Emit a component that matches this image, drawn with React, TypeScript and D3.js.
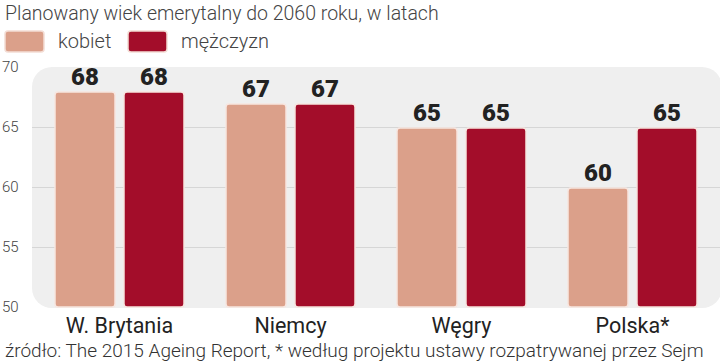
import { useEffect, useRef } from 'react'
import * as d3 from 'd3'

const categories = ['W. Brytania', 'Niemcy', 'Węgry', 'Polska*']
const kobiet = [68, 67, 65, 60]
const mezczyzn = [68, 67, 65, 65]
const seriesNames = ['kobiet', 'mężczyzn']
const yTicks = [50, 55, 60, 65, 70]

const colors = ['#dba08a', '#a30d2a']
const font = 'Roboto, "Open Sans", sans-serif'

export default function App() {
  const svgRef = useRef<SVGSVGElement>(null)

  useEffect(() => {
    if (!svgRef.current) return
    const width = 720
    const height = 364
    const svg = d3.select(svgRef.current)
    svg.selectAll('*').remove()
    svg.attr('width', width).attr('height', height)

    const plot = { left: 32, right: 722, top: 67, bottom: 308 }

    // tło wykresu
    svg.append('rect')
      .attr('x', plot.left)
      .attr('y', plot.top)
      .attr('width', plot.right - plot.left)
      .attr('height', plot.bottom - plot.top)
      .attr('rx', 20)
      .attr('fill', '#efefef')

    const y = d3.scaleLinear().domain([50, 70]).range([plot.bottom - 1, plot.top])

    const x0 = d3.scaleBand()
      .domain(categories)
      .range([47, 731])

    const x1 = d3.scaleBand()
      .domain(seriesNames)
      .range([8, 137])
      .paddingInner(0.13)

    // linie siatki
    svg.append('g')
      .selectAll('line')
      .data(yTicks.filter(t => t > 50 && t < 70))
      .enter()
      .append('line')
      .attr('x1', plot.left)
      .attr('x2', plot.right)
      .attr('y1', d => y(d) + 0.5)
      .attr('y2', d => y(d) + 0.5)
      .attr('stroke', '#d6d6d6')
      .attr('stroke-width', 1)

    // etykiety osi Y
    svg.append('g')
      .selectAll('text')
      .data(yTicks)
      .enter()
      .append('text')
      .attr('x', 2)
      .attr('y', d => y(d) + 5)
      .style('font-family', font)
      .style('font-size', '15px')
      .style('font-weight', 300)
      .style('fill', '#444')
      .text(d => d)

    const rows = categories.map((c, i) => ({ c, values: [kobiet[i], mezczyzn[i]] }))

    const groups = svg.append('g')
      .selectAll('g')
      .data(rows)
      .enter()
      .append('g')
      .attr('transform', d => `translate(${x0(d.c)},0)`)

    groups.selectAll('rect')
      .data(d => d.values.map((v, j) => ({ v, s: seriesNames[j], j })))
      .enter()
      .append('rect')
      .attr('x', d => x1(d.s) || 0)
      .attr('y', d => y(d.v) + 1)
      .attr('width', x1.bandwidth())
      .attr('height', d => y(50) - y(d.v) - 1)
      .attr('rx', 3)
      .attr('fill', d => colors[d.j])
      .attr('stroke', '#f8e6e0')
      .attr('stroke-width', 1.5)

    groups.selectAll('text.val')
      .data(d => d.values.map((v, j) => ({ v, s: seriesNames[j] })))
      .enter()
      .append('text')
      .attr('class', 'val')
      .attr('x', d => (x1(d.s) || 0) + x1.bandwidth() / 2)
      .attr('y', d => y(d.v) - 6)
      .attr('text-anchor', 'middle')
      .style('font-family', font)
      .style('font-size', '24px')
      .style('font-weight', 900)
      .style('fill', '#222')
      .text(d => d.v)

    // etykiety kategorii
    groups.append('text')
      .attr('x', ((x1(seriesNames[0]) || 0) + (x1(seriesNames[1]) || 0) + x1.bandwidth()) / 2)
      .attr('y', 333)
      .attr('text-anchor', 'middle')
      .style('font-family', font)
      .style('font-size', '21.5px')
      .style('fill', '#222')
      .text(d => d.c)

    // tytuł
    svg.append('text')
      .attr('x', 5)
      .attr('y', 20)
      .style('font-family', font)
      .style('font-size', '19.5px')
      .style('font-weight', 300)
      .style('fill', '#444')
      .text('Planowany wiek emerytalny do 2060 roku, w latach')

    // legenda
    const legendX = [5, 128]
    seriesNames.forEach((name, i) => {
      svg.append('rect')
        .attr('x', legendX[i])
        .attr('y', 31)
        .attr('width', 39)
        .attr('height', 21)
        .attr('rx', 3)
        .attr('fill', colors[i])
        .attr('stroke', '#f3ddd5')
        .attr('stroke-width', 1.5)
      svg.append('text')
        .attr('x', legendX[i] + 53)
        .attr('y', 48)
        .style('font-family', font)
        .style('font-size', '20px')
        .style('font-weight', 300)
        .style('fill', '#444')
        .text(name)
    })

    // źródło
    svg.append('text')
      .attr('x', 5)
      .attr('y', 357)
      .style('font-family', font)
      .style('font-size', '19px')
      .style('font-weight', 300)
      .style('fill', '#333')
      .text('źródło: The 2015 Ageing Report, * według projektu ustawy rozpatrywanej przez Sejm')
  }, [])

  return (
    <div style={{ position: 'absolute', left: 0, top: 0 }}>
      <svg ref={svgRef} style={{ display: 'block' }}></svg>
    </div>
  )
}
